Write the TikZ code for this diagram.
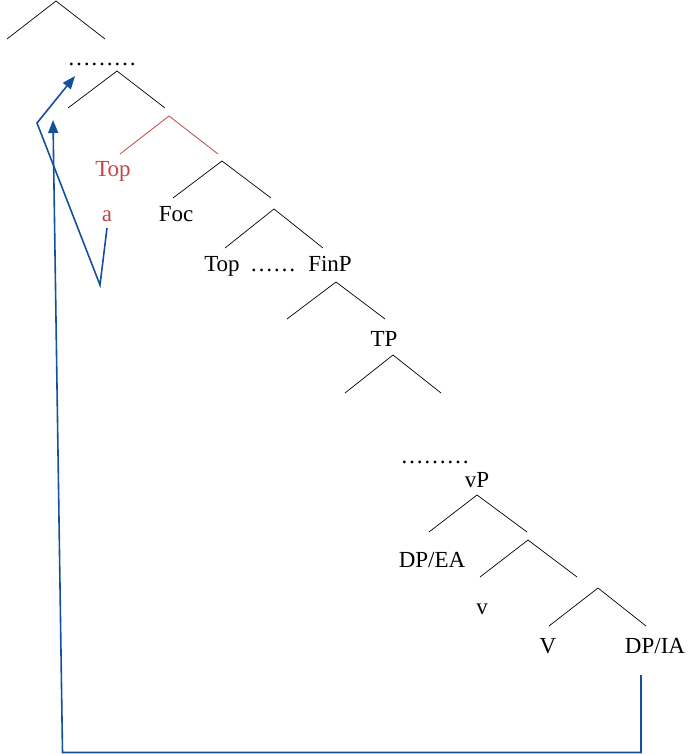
\documentclass[tikz,border=0pt]{standalone}
\usepackage{fontspec}
\setmainfont{Liberation Serif}
\usetikzlibrary{arrows.meta}
\definecolor{moveblue}{RGB}{20,80,155}
\definecolor{topred}{RGB}{192,70,68}
\begin{document}
\begin{tikzpicture}[x=1pt,y=-1pt,
  lbl/.style={font=\fontsize{23}{26}\selectfont, inner sep=0pt, anchor=base},
  branch/.style={draw=black, line width=0.7pt},
  redbranch/.style={draw=topred, line width=0.8pt},
  move/.style={draw=moveblue, line width=1.6pt, line join=miter, -{Triangle[length=13pt,width=10pt]}}]
\useasboundingbox (0,0) rectangle (691,754);

% branching points and branch ends
\coordinate (r0) at (56,1);   \coordinate (r0l) at (7,39);    \coordinate (r0r) at (105,39);
\coordinate (r1) at (117,71); \coordinate (r1l) at (68,108);  \coordinate (r1r) at (165,108);
\coordinate (r2) at (169,116);\coordinate (r2l) at (120,154); \coordinate (r2r) at (218,154);
\coordinate (r3) at (222,161);\coordinate (r3l) at (173,198); \coordinate (r3r) at (271,198);
\coordinate (r4) at (274,209);\coordinate (r4l) at (225,248); \coordinate (r4r) at (323,248);
\coordinate (r5) at (336,282);\coordinate (r5l) at (287,319); \coordinate (r5r) at (385,319);
\coordinate (r6) at (393,355);\coordinate (r6l) at (345,393); \coordinate (r6r) at (441,393);
\coordinate (r7) at (477,495);\coordinate (r7l) at (429,532); \coordinate (r7r) at (527,532);
\coordinate (r8) at (528,540);\coordinate (r8l) at (480,577); \coordinate (r8r) at (577,577);
\coordinate (r9) at (598,588);\coordinate (r9l) at (549,626); \coordinate (r9r) at (646,626);

% labels
\node[lbl] (dotsA) at (102,66) {………};
\node[lbl, text=topred] (topA) at (113,176) {Top};
\node[lbl, text=topred] (a) at (107,221) {a};
\node[lbl] (foc) at (176,221) {Foc};
\node[lbl] (topB) at (222,271) {Top};
\node[lbl] (dotsB) at (273,271) {……};
\node[lbl] (finp) at (330,271) {FinP};
\node[lbl] (tp) at (384,346) {TP};
\node[lbl] (dotsC) at (435,463) {………};
\node[lbl] (vp) at (477,487) {vP};
\node[lbl] (dpea) at (432,567) {DP/EA};
\node[lbl] (v) at (482,614) {v};
\node[lbl] (bigv) at (548,653) {V};
\node[lbl] (dpia) at (655,653) {DP/IA};

% tree branches
\foreach \n in {r0,r1,r3,r4,r5,r6,r7,r8,r9}
  \draw[branch] (\n l) -- (\n) -- (\n r);
\draw[redbranch] (r2l) -- (r2) -- (r2r);

% movement paths
\coordinate (aStart) at (107,228);
\coordinate (aLow) at (100,285);
\coordinate (aBend) at (37,123);
\coordinate (aTip) at (75,76);
\draw[move] (aStart) -- (aLow) -- (aBend) -- (aTip);

\coordinate (iaStart) at (641,675);
\coordinate (iaCorner) at (641,752.5);
\coordinate (baseCorner) at (62.5,752.5);
\coordinate (iaTip) at (53,120);
\draw[move] (iaStart) -- (iaCorner) -- (baseCorner) -- (iaTip);
\end{tikzpicture}
\end{document}
